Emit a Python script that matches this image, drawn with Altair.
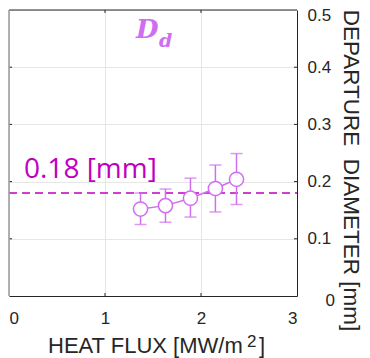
import altair as alt
import pandas as pd

heat_flux = [1.37, 1.63, 1.89, 2.15, 2.37]
diameter = [0.152, 0.158, 0.171, 0.188, 0.204]
err_low = [0.125, 0.129, 0.138, 0.147, 0.160]
err_high = [0.180, 0.187, 0.206, 0.229, 0.249]
mean_value = 0.18
mean_label = "0.18 [mm]"
x_ticks = [0, 1, 2, 3]
y_ticks = [0, 0.1, 0.2, 0.3, 0.4, 0.5]
x_title_parts = ["HEAT FLUX [MW/m", "2", "]"]
y_title = "DEPARTURE\u00a0\u00a0DIAMETER [mm]"

pts = pd.DataFrame({"x": heat_flux, "y": diameter, "lo": err_low, "hi": err_high})

W, H = 288, 286
PURPLE = "#D06EF2"
MAGENTA = "#BF00BF"
INK = "#262626"
FONT = "Liberation Sans"

xs = alt.Scale(domain=[0, 3], nice=False)
ys = alt.Scale(domain=[0, 0.5], nice=False)

xaxis = alt.Axis(values=x_ticks, title="", grid=True, gridColor="#E6E6E6",
                 domainColor=INK, ticks=False, tickSize=0, labelPadding=14,
                 labelFontSize=17, labelColor=INK, labelFont=FONT, format="d", domainWidth=1)
yaxis = alt.Axis(values=y_ticks, orient="right", title=y_title, grid=True,
                 gridColor="#E6E6E6", domainColor=INK, ticks=False, tickSize=0,
                 labelFontSize=17, titleFontSize=22.5, labelColor=INK,
                 titleColor=INK, titleFontWeight="normal", labelFont=FONT,
                 titleFont=FONT, titleAngle=90, titleBaseline="alphabetic",
                 titleAlign="center", titleX=46, titleY=160, format=".1~f",
                 labelPadding={"condition": {"test": "datum.value == 0", "value": 28},
                               "value": 10},
                 labelOffset={"condition": [{"test": "datum.value == 0", "value": 4},
                                            {"test": "datum.value == 0.5", "value": 5}],
                              "value": 0})

base = alt.Chart(pts)

grid = base.mark_point(opacity=0).encode(
    x=alt.X("x:Q", scale=xs, axis=xaxis),
    y=alt.Y("y:Q", scale=ys, axis=yaxis),
)

# x-axis title with a raised superscript
xt1 = alt.Chart(pd.DataFrame({"t": [x_title_parts[0]]})).mark_text(
    font=FONT, fontSize=22, color=INK, align="left", baseline="alphabetic").encode(
    x=alt.value(39), y=alt.value(343), text="t:N")
xt2 = alt.Chart(pd.DataFrame({"t": [x_title_parts[1]]})).mark_text(
    font=FONT, fontSize=17, color=INK, align="left", baseline="alphabetic").encode(
    x=alt.value(238), y=alt.value(337), text="t:N")
xt3 = alt.Chart(pd.DataFrame({"t": [x_title_parts[2]]})).mark_text(
    font=FONT, fontSize=22, color=INK, align="left", baseline="alphabetic").encode(
    x=alt.value(250), y=alt.value(343), text="t:N")

# box: top and left borders
top = alt.Chart(pd.DataFrame({"a": [0]})).mark_rule(color=INK, strokeWidth=1).encode(
    x=alt.value(0), x2=alt.value(W), y=alt.value(0))
left = alt.Chart(pd.DataFrame({"a": [0]})).mark_rule(color="#999999", strokeWidth=1.5).encode(
    x=alt.value(0), y=alt.value(0), y2=alt.value(H))

# inward ticks
xtk = pd.DataFrame({"v": [1, 2]})
ytk = pd.DataFrame({"v": [0.1, 0.2, 0.3, 0.4]})
tb = alt.Chart(xtk).mark_rule(color=INK).encode(
    x=alt.X("v:Q", scale=xs), y=alt.value(H), y2=alt.value(H - 3))
tt = alt.Chart(xtk).mark_rule(color=INK).encode(
    x=alt.X("v:Q", scale=xs), y=alt.value(0), y2=alt.value(3))
tl = alt.Chart(ytk).mark_rule(color=INK).encode(
    y=alt.Y("v:Q", scale=ys), x=alt.value(0), x2=alt.value(3))
tr = alt.Chart(ytk).mark_rule(color=INK).encode(
    y=alt.Y("v:Q", scale=ys), x=alt.value(W), x2=alt.value(W - 3))

mean_df = pd.DataFrame({"y": [mean_value], "t": [mean_label]})
dash = alt.Chart(mean_df).mark_rule(color=MAGENTA, strokeWidth=1.5, strokeDash=[8, 5]).encode(
    y=alt.Y("y:Q", scale=ys), x=alt.value(0), x2=alt.value(W))
mtext = alt.Chart(mean_df).mark_text(color=MAGENTA, fontSize=28, font="Open Sans", align="left",
                                     baseline="bottom", dx=15, dy=-9).encode(
    y=alt.Y("y:Q", scale=ys), x=alt.value(0), text="t:N")

ebar = base.mark_rule(color=PURPLE, strokeWidth=1.5).encode(
    x=alt.X("x:Q", scale=xs), y=alt.Y("lo:Q", scale=ys), y2="hi:Q")
cap_lo = base.mark_tick(color=PURPLE, orient="horizontal", size=12, thickness=1.5).encode(
    x=alt.X("x:Q", scale=xs), y=alt.Y("lo:Q", scale=ys))
cap_hi = base.mark_tick(color=PURPLE, orient="horizontal", size=12, thickness=1.5).encode(
    x=alt.X("x:Q", scale=xs), y=alt.Y("hi:Q", scale=ys))
line = base.mark_line(color=PURPLE, strokeWidth=1.5).encode(
    x=alt.X("x:Q", scale=xs), y=alt.Y("y:Q", scale=ys))
circ = base.mark_point(shape="circle", size=200, filled=True, fill="white", stroke=PURPLE,
                       strokeWidth=1.5, opacity=1).encode(
    x=alt.X("x:Q", scale=xs), y=alt.Y("y:Q", scale=ys))

tD = alt.Chart(pd.DataFrame({"t": ["D"]})).mark_text(
    color=PURPLE, fontSize=26, font="DejaVu Serif", fontWeight="bold", fontStyle="italic",
    align="left", baseline="alphabetic").encode(x=alt.value(127), y=alt.value(28), text="t:N")
td = alt.Chart(pd.DataFrame({"t": ["d"]})).mark_text(
    color=PURPLE, fontSize=19, font="DejaVu Serif", fontWeight="bold", fontStyle="italic",
    align="left", baseline="alphabetic").encode(x=alt.value(150), y=alt.value(37), text="t:N")

chart = alt.layer(grid, dash, mtext, ebar, cap_lo, cap_hi, line, circ, tb, tt, tl, tr,
                  top, left, tD, td, xt1, xt2, xt3).properties(
    width=W, height=H, autosize=alt.AutoSizeParams(type="none"),
    padding={"left": 1, "top": 2, "right": 65, "bottom": 62},
).configure_view(stroke=None)

chart.save("out.html", embed_options={"renderer": "svg", "actions": False})
